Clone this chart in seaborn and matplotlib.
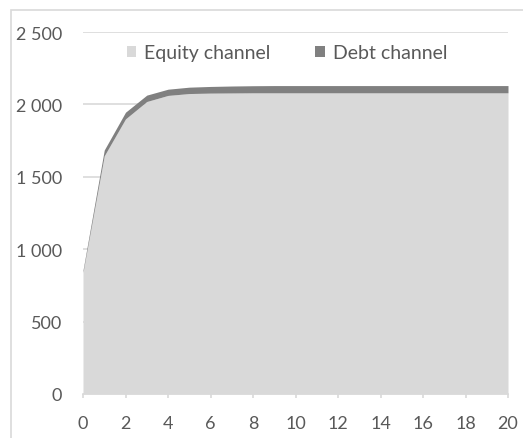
import matplotlib
matplotlib.use("Agg")
import matplotlib.pyplot as plt
from matplotlib.ticker import FuncFormatter, MultipleLocator
from matplotlib.patches import Rectangle, Patch
import seaborn as sns
import numpy as np

# Horizon (years) and contribution of each channel
years = list(range(0, 21))
equity_channel = [840, 1645, 1900, 2020, 2062, 2075, 2078, 2079, 2080, 2080,
                  2080, 2080, 2080, 2080, 2080, 2080, 2080, 2080, 2080, 2080, 2080]
debt_channel = [15, 40, 46, 44, 43, 44, 46, 48, 49, 50,
                50, 50, 50, 50, 50, 50, 50, 50, 50, 50, 50]
series_labels = ["Equity channel", "Debt channel"]

sns.set_theme(style="white")
plt.rcParams["font.family"] = ["Lato", "DejaVu Sans"]

text_color = "#595959"
grid_color = "#d9d9d9"
colors = ["#d9d9d9", "#808080"]

fig = plt.figure(figsize=(5.23, 4.39), dpi=100)
ax = fig.add_axes([83 / 523, 1 - 395 / 439, (508 - 83) / 523, (395 - 33) / 439])

ax.stackplot(years, equity_channel, debt_channel, colors=colors, linewidth=0)

ax.set_xlim(0, 20)
ax.set_ylim(0, 2500)
ax.xaxis.set_major_locator(MultipleLocator(2))
ax.yaxis.set_major_locator(MultipleLocator(500))
ax.yaxis.set_major_formatter(FuncFormatter(lambda v, p: f"{int(v):,}".replace(",", " ")))

ax.grid(axis="y", color=grid_color, linewidth=1.2, zorder=0)
ax.set_axisbelow(True)
for side in ["top", "right", "left"]:
    ax.spines[side].set_visible(False)
ax.spines["bottom"].set_color(grid_color)
ax.spines["bottom"].set_linewidth(1.2)

ax.tick_params(axis="x", bottom=True, length=3, width=1.2, color=grid_color,
               labelsize=13, labelcolor=text_color, pad=12)
ax.tick_params(axis="y", left=False, length=0, labelsize=13, labelcolor=text_color, pad=15)

handles = [Patch(facecolor=c, edgecolor="none") for c in colors]
ax.legend(handles, series_labels, loc="center", bbox_to_anchor=(0.48, 0.943),
          ncol=2, frameon=False, fontsize=14, labelcolor=text_color,
          handlelength=0.5, handleheight=0.5, handletextpad=0.4, columnspacing=2.3,
          borderpad=0, borderaxespad=0)

# Chart area outline
fig.patches.append(Rectangle((11 / 523, -0.1), 1.2, 1 - 11 / 439 + 0.1,
                             transform=fig.transFigure, fill=False,
                             edgecolor=grid_color, linewidth=1.2))

fig.savefig("out.png", dpi=100, facecolor="white")
